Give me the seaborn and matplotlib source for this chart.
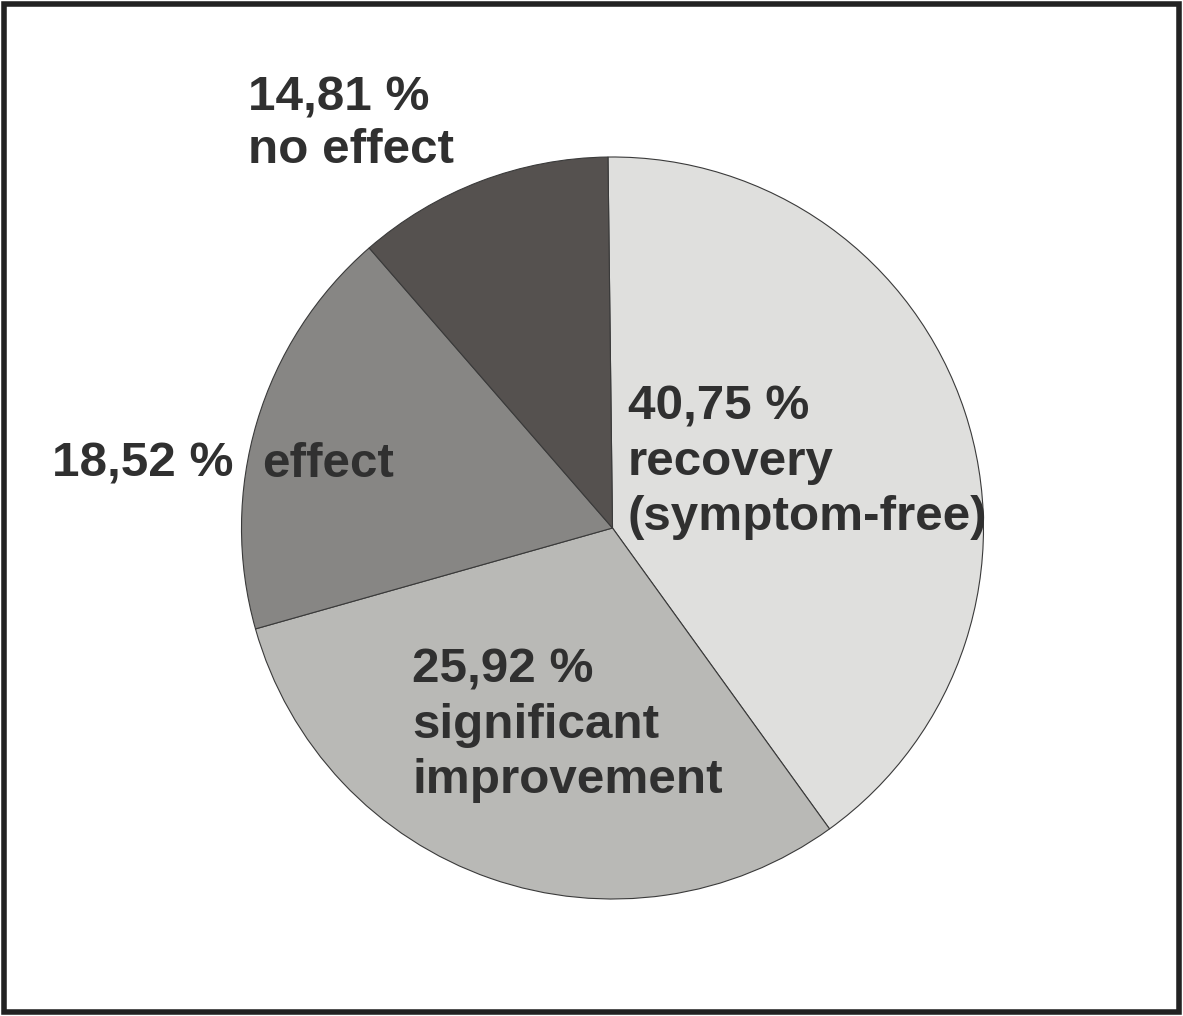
import matplotlib
matplotlib.use("Agg")
import matplotlib.pyplot as plt
from matplotlib.patches import Rectangle
import seaborn as sns

# ---- data ----
categories = ["recovery (symptom-free)", "significant improvement", "effect", "no effect"]
label_percents = ["40,75 %", "25,92 %", "18,52 %", "14,81 %"]
# wedge sizes as drawn in the picture (percent of the circle)
slice_shares = [40.25, 30.56, 18.0, 11.19]
slice_colors = ["#dfdfdd", "#b9b9b6", "#878684", "#55514f"]

sns.set_theme(style="white")
plt.rcParams["font.family"] = ["Liberation Sans", "DejaVu Sans"]

W, H = 1183, 1016
fig = plt.figure(figsize=(W / 100, H / 100), dpi=100)
fig.patch.set_facecolor("white")

cx, cy, r = 612.5, 528, 371
ax = fig.add_axes([(cx - r) / W, (H - cy - r) / H, 2 * r / W, 2 * r / H])
ax.pie(slice_shares, colors=slice_colors, startangle=90.7, counterclock=False,
       radius=1.0, wedgeprops=dict(edgecolor="#3a3a3a", linewidth=0.8))
ax.set_xlim(-1, 1)
ax.set_ylim(-1, 1)
ax.set_aspect("equal")
ax.axis("off")

txt = dict(fontsize=35.6, fontweight="bold", color="#303030", ha="left", va="baseline")

def put(x, y, s):
    fig.text(x / W, 1 - y / H, s, **txt)

# label lines: (x, baseline y) in pixels
put(248, 110, label_percents[3])
put(248, 163, "no effect")

put(52, 477, label_percents[2])
put(262, 477, "effect")

put(628, 420, label_percents[0])
put(628, 475, "recovery")
put(628, 530, "(symptom-free)")

put(412, 683, label_percents[1])
put(412, 738, "significant")
put(412, 793, "improvement")

# outer frame
fig.patches.append(Rectangle((4 / W, 4 / H), (W - 8) / W, (H - 8) / H,
                             transform=fig.transFigure, fill=False,
                             edgecolor="#222222", linewidth=4.0))

fig.savefig("out.png", dpi=100)
